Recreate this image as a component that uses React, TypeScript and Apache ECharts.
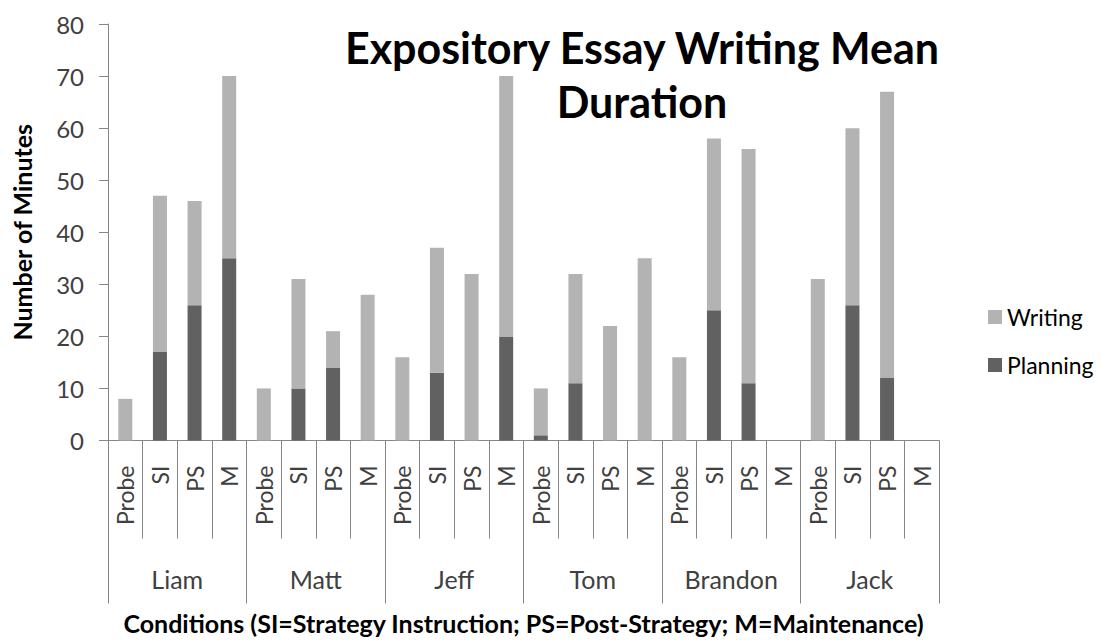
import React, { useEffect, useRef } from "react";
import * as echarts from "echarts";

const students = ["Liam", "Matt", "Jeff", "Tom", "Brandon", "Jack"];
const conditions = ["Probe", "SI", "PS", "M"];
const categories = students.flatMap(() => conditions);
const planning = [0, 17, 26, 35, 0, 10, 14, 0, 0, 13, 0, 20, 1, 11, 0, 0, 0, 25, 11, 0, 0, 26, 12, 0];
const writing = [8, 30, 20, 35, 10, 21, 7, 28, 16, 24, 32, 50, 9, 21, 22, 35, 16, 33, 45, 0, 31, 34, 55, 0];
const yTicks = { min: 0, max: 80, interval: 10 };
const titleLines = ["Expository Essay Writing Mean", "Duration"];

const FONT = "Lato";
const AXIS_COLOR = "#868686";
const TEXT_COLOR = "#404040";

export default function App() {
  const ref = useRef<HTMLDivElement>(null);
  useEffect(() => {
    if (!ref.current) return;
    const chart = echarts.init(ref.current, null, { renderer: "svg" });
    chart.setOption({
      animation: false,
      backgroundColor: "#ffffff",
      textStyle: { fontFamily: FONT },
      graphic: titleLines.map((t, i) => ({
        type: "text",
        x: 642,
        y: 47 + i * 54,
        style: {
          text: t,
          textAlign: "center",
          textVerticalAlign: "middle",
          fontFamily: FONT,
          fontWeight: "bold",
          fontSize: 43,
          fill: "#000",
        },
      })),
      legend: {
        orient: "vertical",
        left: 983,
        top: 300,
        data: ["Writing", "Planning"],
        icon: "rect",
        itemWidth: 14,
        itemHeight: 14,
        itemGap: 24,
        textStyle: { fontFamily: FONT, fontSize: 23, color: "#000", lineHeight: 24 },
      },
      grid: { left: 108, right: 162, top: 24, bottom: 195, containLabel: false },
      xAxis: [
        {
          type: "category",
          data: categories,
          position: "bottom",
          axisLine: { show: true, lineStyle: { color: AXIS_COLOR, width: 1 } },
          axisTick: { show: true, interval: 0, length: 98, lineStyle: { color: AXIS_COLOR } },
          axisLabel: {
            interval: 0,
            rotate: 90,
            margin: 25,
            fontFamily: FONT,
            fontSize: 23,
            color: TEXT_COLOR,
          },
        },
        {
          type: "category",
          data: students,
          position: "bottom",
          axisLine: { show: false },
          axisTick: { show: true, interval: 0, length: 163, lineStyle: { color: AXIS_COLOR } },
          axisLabel: {
            interval: 0,
            margin: 126,
            fontFamily: FONT,
            fontSize: 25,
            color: TEXT_COLOR,
          },
          name: "Conditions (SI=Strategy Instruction; PS=Post-Strategy; M=Maintenance)",
          nameLocation: "middle",
          nameGap: 182,
          nameTextStyle: {
            fontFamily: FONT,
            fontWeight: "bold",
            fontSize: 25,
            color: "#000",
            verticalAlign: "middle",
          },
        },
      ],
      yAxis: {
        type: "value",
        min: yTicks.min,
        max: yTicks.max,
        interval: yTicks.interval,
        axisLine: { show: true, lineStyle: { color: AXIS_COLOR } },
        axisTick: { show: true, length: 9, lineStyle: { color: AXIS_COLOR } },
        splitLine: { show: false },
        axisLabel: { margin: 24, fontFamily: FONT, fontSize: 24, color: TEXT_COLOR },
        name: "Number of Minutes",
        nameLocation: "middle",
        nameGap: 86,
        nameTextStyle: {
          fontFamily: FONT,
          fontWeight: "bold",
          fontSize: 25,
          color: "#000",
          verticalAlign: "middle",
        },
      },
      series: [
        {
          name: "Planning",
          type: "bar",
          stack: "total",
          barWidth: 14,
          xAxisIndex: 0,
          data: planning,
          itemStyle: { color: "#616161" },
        },
        {
          name: "Writing",
          type: "bar",
          stack: "total",
          barWidth: 14,
          xAxisIndex: 0,
          data: writing,
          itemStyle: { color: "#b3b3b3" },
        },
      ],
    });
    return () => chart.dispose();
  }, []);
  return (
    <div
      ref={ref}
      style={{ position: "fixed", left: 0, top: 0, width: 1101, height: 640 }}
    />
  );
}
